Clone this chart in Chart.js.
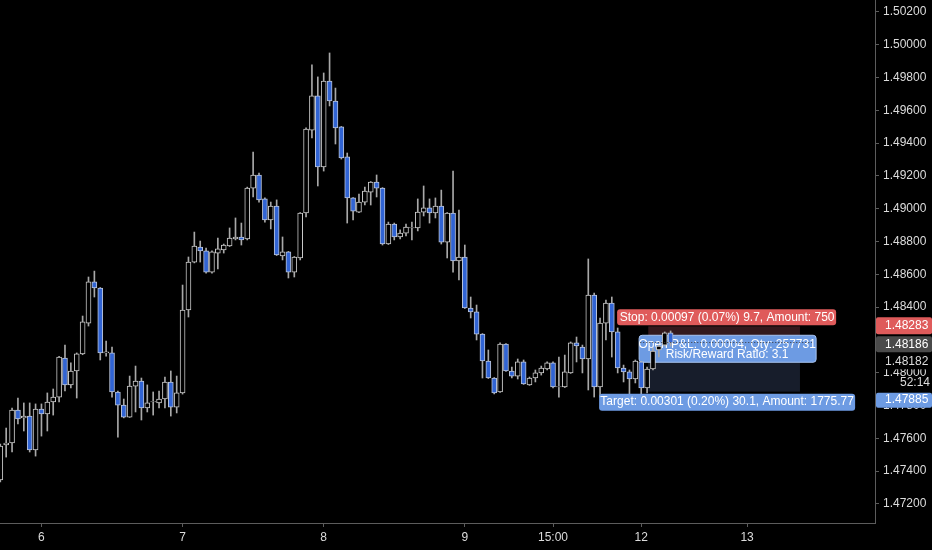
<!DOCTYPE html>
<html>
<head>
<meta charset="utf-8">
<title>Candles</title>
<script src="https://cdn.jsdelivr.net/npm/chart.js@4.4.0/dist/chart.umd.min.js"></script>
<style>
    html, body { margin: 0; padding: 0; background: #000; }
    #wrap { width: 932px; height: 550px; }
</style>
</head>
<body>
<div id="wrap"><canvas id="priceChart" width="932" height="550"></canvas></div>
<script>
// ========== DATA (hourly candles) ==========
const opens = [
    1.47346, 1.47560, 1.47572, 1.47773, 1.47724, 1.47736, 1.47529, 1.47779, 1.47749, 1.47822,
    1.47852, 1.48090, 1.47926, 1.48011, 1.48115, 1.48303, 1.48554, 1.48517, 1.48121, 1.48121,
    1.47883, 1.47803, 1.47730, 1.47919, 1.47950, 1.47785, 1.47822, 1.47816, 1.47840, 1.47944,
    1.47791, 1.47877, 1.48383, 1.48675, 1.48767, 1.48743, 1.48614, 1.48730, 1.48749, 1.48773,
    1.48816, 1.48828, 1.48816, 1.49126, 1.49206, 1.49060, 1.48932, 1.49017, 1.48712, 1.48737,
    1.48614, 1.48700, 1.48974, 1.49480, 1.49688, 1.49255, 1.49779, 1.49657, 1.49499, 1.49316,
    1.49066, 1.48980, 1.49041, 1.49102, 1.49163, 1.49126, 1.48785, 1.48907, 1.48828, 1.48852,
    1.48883, 1.48883, 1.48980, 1.49005, 1.48974, 1.49017, 1.48797, 1.48974, 1.48682, 1.48706,
    1.48395, 1.48371, 1.48236, 1.48072, 1.47968, 1.47883, 1.48175, 1.48011, 1.47980, 1.48066,
    1.47926, 1.47968, 1.47999, 1.48023, 1.48060, 1.47913, 1.47913, 1.47999, 1.48182, 1.48157,
    1.48084, 1.48474, 1.47913, 1.48303, 1.48425, 1.48249, 1.48029, 1.48005, 1.47962, 1.48066,
    1.47907, 1.48023, 1.48139, 1.48169, 1.48243
];
const highs = [
    1.47565, 1.47663, 1.47785, 1.47846, 1.47816, 1.47816, 1.47810, 1.47810, 1.47877, 1.47901,
    1.48100, 1.48169, 1.48060, 1.48121, 1.48346, 1.48584, 1.48620, 1.48520, 1.48194, 1.48157,
    1.47889, 1.47840, 1.47980, 1.48041, 1.47968, 1.47926, 1.47883, 1.47889, 1.47974, 1.48011,
    1.47980, 1.48535, 1.48706, 1.48858, 1.48803, 1.48761, 1.48743, 1.48822, 1.48785, 1.48883,
    1.48944, 1.48913, 1.49132, 1.49346, 1.49218, 1.49066, 1.49041, 1.49054, 1.48828, 1.48740,
    1.48709, 1.48977, 1.49493, 1.49877, 1.49804, 1.49828, 1.49950, 1.49736, 1.49502, 1.49340,
    1.49069, 1.49090, 1.49132, 1.49166, 1.49206, 1.49129, 1.48919, 1.48913, 1.48871, 1.48907,
    1.48919, 1.49060, 1.49139, 1.49060, 1.49066, 1.49114, 1.48977, 1.49230, 1.48992, 1.48779,
    1.48462, 1.48413, 1.48239, 1.48139, 1.47971, 1.48182, 1.48178, 1.48035, 1.48084, 1.48078,
    1.47974, 1.48017, 1.48041, 1.48066, 1.48066, 1.48096, 1.48108, 1.48188, 1.48218, 1.48169,
    1.48694, 1.48486, 1.48334, 1.48444, 1.48462, 1.48273, 1.48047, 1.48017, 1.48078, 1.48069,
    1.48035, 1.48151, 1.48169, 1.48249, 1.48255
];
const lows = [
    1.47334, 1.47486, 1.47517, 1.47688, 1.47645, 1.47517, 1.47492, 1.47614, 1.47645, 1.47742,
    1.47822, 1.47889, 1.47907, 1.47846, 1.48110, 1.48285, 1.48462, 1.48078, 1.48102, 1.47852,
    1.47608, 1.47725, 1.47728, 1.47761, 1.47712, 1.47761, 1.47742, 1.47785, 1.47785, 1.47736,
    1.47755, 1.47870, 1.48340, 1.48670, 1.48675, 1.48608, 1.48608, 1.48633, 1.48730, 1.48770,
    1.48810, 1.48779, 1.48810, 1.49072, 1.49041, 1.48919, 1.48877, 1.48715, 1.48688, 1.48578,
    1.48584, 1.48688, 1.48950, 1.49432, 1.49139, 1.49230, 1.49627, 1.49395, 1.49303, 1.48913,
    1.48932, 1.48977, 1.49023, 1.49023, 1.49072, 1.48779, 1.48782, 1.48810, 1.48816, 1.48834,
    1.48810, 1.48865, 1.48956, 1.48913, 1.48944, 1.48785, 1.48700, 1.48614, 1.48566, 1.48392,
    1.48334, 1.48200, 1.47968, 1.47965, 1.47871, 1.47880, 1.48008, 1.47968, 1.47962, 1.47929,
    1.47923, 1.47944, 1.47986, 1.48017, 1.47907, 1.47852, 1.47910, 1.47996, 1.48066, 1.47999,
    1.47895, 1.47852, 1.47852, 1.48200, 1.48096, 1.47999, 1.47944, 1.47852, 1.47938, 1.47852,
    1.47877, 1.48017, 1.48096, 1.48163, 1.48163
];
const closes = [
    1.47553, 1.47572, 1.47773, 1.47718, 1.47736, 1.47529, 1.47779, 1.47749, 1.47822, 1.47852,
    1.48096, 1.47926, 1.48011, 1.48115, 1.48310, 1.48554, 1.48517, 1.48121, 1.48127, 1.47883,
    1.47803, 1.47730, 1.47919, 1.47950, 1.47785, 1.47816, 1.47825, 1.47840, 1.47944, 1.47791,
    1.47877, 1.48383, 1.48675, 1.48773, 1.48743, 1.48614, 1.48737, 1.48755, 1.48779, 1.48822,
    1.48828, 1.48810, 1.49126, 1.49206, 1.49054, 1.48932, 1.49017, 1.48718, 1.48737, 1.48614,
    1.48706, 1.48974, 1.49486, 1.49688, 1.49255, 1.49779, 1.49657, 1.49493, 1.49310, 1.49066,
    1.48986, 1.49041, 1.49108, 1.49163, 1.49126, 1.48785, 1.48907, 1.48828, 1.48852, 1.48889,
    1.48886, 1.48980, 1.49005, 1.48974, 1.49017, 1.48797, 1.48974, 1.48682, 1.48706, 1.48395,
    1.48371, 1.48236, 1.48072, 1.47968, 1.47877, 1.48175, 1.48011, 1.47980, 1.48066, 1.47932,
    1.47968, 1.47999, 1.48029, 1.48060, 1.47913, 1.47916, 1.48005, 1.48182, 1.48163, 1.48084,
    1.48474, 1.47913, 1.48303, 1.48425, 1.48249, 1.48029, 1.48005, 1.47962, 1.48072, 1.47907,
    1.48023, 1.48133, 1.48163, 1.48243, 1.48182
];

// time axis labels (candle index where each label sits)
const xTickIdx = [7, 31, 55, 79, 94, 109, 127];
const xTickLabels = ['6', '7', '8', '9', '15:00', '12', '13'];

// price axis
const yTicks = [1.472, 1.474, 1.476, 1.478, 1.480, 1.482, 1.484, 1.486, 1.488,
                1.490, 1.492, 1.494, 1.496, 1.498, 1.500, 1.502];

// short position drawing
const stopPrice = 1.48283;
const entryPrice = 1.48186;
const lastPrice = 1.48182;
const targetPrice = 1.47885;
const positionFrom = 110.2;
const positionTo = 136;
const stopText = 'Stop: 0.00097 (0.07%) 9.7, Amount: 750';
const pnlText = 'Open P&L: 0.00004, Qty: 257731';
const ratioText = 'Risk/Reward Ratio: 3.1';
const targetText = 'Target: 0.00301 (0.20%) 30.1, Amount: 1775.77';
const countdownText = '52:14';

// ========== COLOURS ==========
const UP_FILL = '#000000';
const UP_LINE = '#c8c8c8';
const DOWN_FILL = '#3164d4';
const DOWN_LINE = '#b9c3d8';
const WICK = '#a8a8a8';
const AXIS = '#5c5c5c';
const TEXT = '#dcdcdc';
const RED = '#df5b5b';
const BLUE = '#6d9be3';
const FONT = '"Liberation Sans", Arial, sans-serif';

function box(ctx, x, y, w, h, r, fill, stroke) {
    ctx.beginPath();
    ctx.roundRect(x, y, w, h, r);
    ctx.fillStyle = fill;
    ctx.fill();
    if (stroke) {
        ctx.strokeStyle = stroke;
        ctx.lineWidth = 1;
        ctx.stroke();
    }
}

function label(ctx, text, x, y, align) {
    ctx.textAlign = align || 'center';
    ctx.textBaseline = 'middle';
    ctx.fillText(text, x, y);
}

const positionTool = {
    id: 'positionTool',
    beforeDatasetsDraw(chart) {
        const { ctx, scales: { x, y } } = chart;
        const x0 = x.getPixelForValue(positionFrom);
        const x1 = x.getPixelForValue(positionTo);
        const yStop = y.getPixelForValue(stopPrice);
        const yEntry = y.getPixelForValue(entryPrice);
        const yTarget = y.getPixelForValue(targetPrice);
        const mid = (x0 + x1) / 2 + 3;

        ctx.save();
        ctx.fillStyle = '#33191d';
        ctx.fillRect(x0, yStop, x1 - x0, yEntry - yStop);
        ctx.fillStyle = '#171d2b';
        ctx.fillRect(x0, yEntry, x1 - x0, yTarget - yEntry);

        // open P&L box sits under the last candles
        box(ctx, mid - 88, yEntry - 7, 177, 27, 3, BLUE, '#a7c3f0');
        ctx.fillStyle = '#ffffff';
        ctx.font = '12px ' + FONT;
        label(ctx, pnlText, mid, yEntry + 2);
        label(ctx, ratioText, mid, yEntry + 12);
        ctx.restore();
    },
    afterDatasetsDraw(chart) {
        const { ctx, scales: { x, y } } = chart;
        const x0 = x.getPixelForValue(positionFrom);
        const x1 = x.getPixelForValue(positionTo);
        const yStop = y.getPixelForValue(stopPrice);
        const yEntry = y.getPixelForValue(entryPrice);
        const yTarget = y.getPixelForValue(targetPrice);
        const mid = (x0 + x1) / 2 + 3;

        ctx.save();
        // dotted entry line
        ctx.strokeStyle = '#3a3a3a';
        ctx.setLineDash([1, 2]);
        ctx.beginPath();
        ctx.moveTo(x0 - 8, Math.round(yEntry) + 0.5);
        ctx.lineTo(x1 + 12, Math.round(yEntry) + 0.5);
        ctx.stroke();
        ctx.setLineDash([]);

        ctx.font = '12px ' + FONT;
        box(ctx, mid - 110, yStop - 17, 219, 16, 3, RED);
        ctx.fillStyle = '#ffffff';
        label(ctx, stopText, mid, yStop - 9);

        box(ctx, mid - 128, yTarget + 2, 256, 17, 3, BLUE);
        ctx.fillStyle = '#ffffff';
        label(ctx, targetText, mid, yTarget + 10.5);
        ctx.restore();
    },
    afterDraw(chart) {
        const { ctx, chartArea, scales: { y } } = chart;
        const left = chartArea.right + 1;
        const w = chart.width - left;
        const tx = left + 9;
        const yStop = y.getPixelForValue(stopPrice);
        const yEntry = y.getPixelForValue(entryPrice);
        const yTarget = y.getPixelForValue(targetPrice);

        ctx.save();
        ctx.font = '12px ' + FONT;

        // hide the regular ticks that sit under the price labels
        ctx.fillStyle = '#000000';
        ctx.fillRect(left, yStop - 9, w, yEntry - yStop + 19);

        box(ctx, left, yStop - 9, w, 17, 2, RED);
        ctx.fillStyle = '#ffffff';
        label(ctx, stopPrice.toFixed(5), tx, yStop - 0.5, 'left');

        box(ctx, left, yEntry - 6, w, 16, 2, '#4a4a4a');
        ctx.fillStyle = '#ffffff';
        label(ctx, entryPrice.toFixed(5), tx, yEntry + 2, 'left');

        // last price and bar countdown, pushed below the entry label
        ctx.fillStyle = '#000000';
        ctx.fillRect(left, yEntry + 11, w, 16);
        ctx.fillStyle = TEXT;
        label(ctx, lastPrice.toFixed(5), tx, yEntry + 19.5, 'left');
        ctx.fillStyle = '#000000';
        ctx.fillRect(left, yEntry + 34, w, 15);
        ctx.fillStyle = TEXT;
        label(ctx, countdownText, tx + 15, yEntry + 40, 'left');

        box(ctx, left, yTarget + 1, w, 15, 2, BLUE);
        ctx.fillStyle = '#ffffff';
        label(ctx, targetPrice.toFixed(5), tx, yTarget + 8.5, 'left');
        ctx.restore();
    }
};

const wickData = lows.map((l, i) => ({ x: i, y: [l, highs[i]] }));
const bodyData = opens.map((o, i) => ({ x: i, y: [o, closes[i]] }));
const isUp = closes.map((c, i) => c >= opens[i]);

const ctx = document.getElementById('priceChart').getContext('2d');
const priceChart = new Chart(ctx, {
    type: 'bar',
    data: {
        datasets: [
            {
                label: 'wick',
                data: wickData,
                backgroundColor: WICK,
                barThickness: 1,
                grouped: false,
                order: 2
            },
            {
                label: 'body',
                data: bodyData,
                backgroundColor: isUp.map(u => u ? UP_FILL : DOWN_FILL),
                borderColor: isUp.map(u => u ? UP_LINE : DOWN_LINE),
                borderWidth: 1,
                borderSkipped: false,
                barThickness: 5,
                grouped: false,
                order: 1
            }
        ]
    },
    options: {
        responsive: false,
        animation: false,
        devicePixelRatio: 1,
        layout: { padding: 0 },
        plugins: {
            legend: { display: false },
            tooltip: { enabled: false }
        },
        scales: {
            x: {
                type: 'linear',
                offset: false,
                min: -0.05,
                max: 148.76,
                afterBuildTicks: (scale) => {
                    scale.ticks = xTickIdx.map(v => ({ value: v }));
                },
                afterFit: (scale) => {
                    scale.height = 27;
                    scale.paddingLeft = 0;
                    scale.paddingRight = 0;
                },
                ticks: {
                    autoSkip: false,
                    maxRotation: 0,
                    padding: 3,
                    color: TEXT,
                    font: { family: FONT, size: 12 },
                    callback: (v) => xTickLabels[xTickIdx.indexOf(v)]
                },
                grid: { offset: false, drawOnChartArea: false, tickLength: 4, color: AXIS },
                border: { display: true, color: AXIS }
            },
            y: {
                type: 'linear',
                position: 'right',
                beginAtZero: false,
                min: 1.47084,
                max: 1.50273,
                afterBuildTicks: (scale) => {
                    scale.ticks = yTicks.map(v => ({ value: v }));
                },
                afterFit: (scale) => {
                    scale.width = 57;
                    scale.paddingTop = 0;
                    scale.paddingBottom = 0;
                },
                ticks: {
                    padding: 4,
                    color: TEXT,
                    font: { family: FONT, size: 12 },
                    callback: (v) => v.toFixed(5)
                },
                grid: { drawOnChartArea: false, tickLength: 4, color: AXIS },
                border: { display: true, color: AXIS }
            }
        }
    },
    plugins: [positionTool]
});
</script>
</body>
</html>
